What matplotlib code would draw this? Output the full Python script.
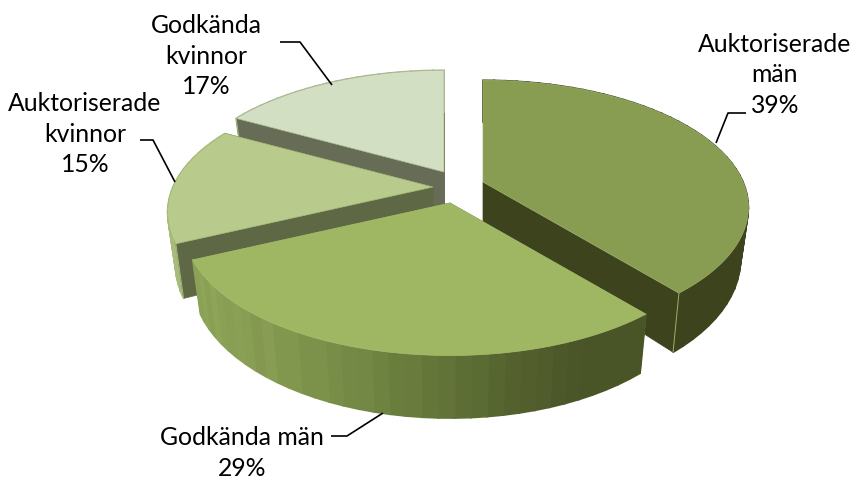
import numpy as np
import matplotlib
matplotlib.use('Agg')
import matplotlib.pyplot as plt
from matplotlib.colors import to_rgb

plt.rcParams['font.family'] = ['Lato', 'DejaVu Sans']

# values, clockwise from twelve o'clock
labels = ['Auktoriserade\nmän\n39%', 'Godkända män\n29%', 'Auktoriserade\nkvinnor\n15%', 'Godkända\nkvinnor\n17%']
values = [39, 29, 15, 17]

# styles per slice
top_colors = ['#889c52', '#9fb762', '#b8cb8d', '#d3dfc2']
cut_colors = ['#3d441d', '#4a5527', '#5f6845', '#666c55']
rim_stops = [['#3d441d', '#3d441d'],
             ['#4a5527', '#4a5527', '#566430', '#66793a', '#768c47', '#84994f', '#8aa055', '#8ba257'],
             ['#a8bb7c', '#a8bb7c'],
             ['#aab48f', '#aab48f']]
edge_colors = ['#9db06a', '#a9bf72', '#a3b87a', '#a9b98f']
apexes = [(483, 182), (450, 203), (433, 187), (444, 172)]
draw_order = [3, 2, 0, 1]
stripes = [0, .012, -.01, .008, -.005, .015, -.012, .005, .01, -.008]

# pie geometry in pixels
R = 260
RC = 122
K = 0.2
DEPTH = 50
SHRINK = 0.97


def project(apex, ang, rad=1.0):
    # ang in degrees clockwise from top, simple perspective on the pie plane
    u = rad * np.sin(np.radians(ang))
    v = -rad * np.cos(np.radians(ang))
    s = 1 / (1 - K * v)
    return apex[0] + R * u * s, apex[1] + RC * v * s, s


def lower(apex, x, y, s):
    return apex[0] + (x - apex[0]) * SHRINK, y + DEPTH * s


def mix(stops, f):
    cols = np.array([to_rgb(c) for c in stops])
    p = np.linspace(0, 1, len(cols))
    return [np.interp(f, p, cols[:, i]) for i in range(3)]


fig = plt.figure(figsize=(8.54, 4.8), dpi=100)
ax = fig.add_axes([0, 0, 1, 1])
ax.set_xlim(0, 854)
ax.set_ylim(480, 0)
ax.axis('off')

ends = np.cumsum(values) / np.sum(values) * 360
starts = np.concatenate([[0], ends[:-1]])


def draw_cut(i, ang, z):
    apex = apexes[i]
    xa, ya, sa = project(apex, 0, 0)
    xb, yb = lower(apex, xa, ya, sa)
    x, y, s = project(apex, ang)
    x2, y2 = lower(apex, x, y, s)
    ax.fill([xa, x, x2, xb], [ya, y, y2, yb], color=cut_colors[i], lw=0.5, zorder=z)
    ax.plot([x, x2], [y, y2], color=edge_colors[i], lw=0.7, zorder=z + 0.01)


for i in draw_order:
    apex = apexes[i]
    a0, a1 = starts[i], ends[i]
    base = 1 + draw_order.index(i)

    # cut faces: the a0 face looks at us when its normal points forward, a1 the other way
    a0_front = np.cos(np.radians(a0 - 90)) < 0.01
    a1_front = np.cos(np.radians(a1 + 90)) < -0.01
    if not a0_front:
        draw_cut(i, a0, base)
    if not a1_front:
        draw_cut(i, a1, base)

    # outer rim as narrow strips
    angs = np.linspace(a0, a1, int((a1 - a0) / 3) + 2)
    for j in range(len(angs) - 1):
        x0, y0, s0 = project(apex, angs[j])
        x1, y1, s1 = project(apex, angs[j + 1])
        x0b, y0b = lower(apex, x0, y0, s0)
        x1b, y1b = lower(apex, x1, y1, s1)
        col = mix(rim_stops[i], j / (len(angs) - 2))
        if i == 1:
            col = np.clip(np.array(col) + stripes[j % len(stripes)] * (j / (len(angs) - 2)), 0, 1)
        ax.fill([x0, x1, x1b, x0b], [y0, y1, y1b, y0b], color=col, lw=1.3, zorder=base + 0.1)

    if a0_front:
        draw_cut(i, a0, base + 0.2)
    if a1_front:
        draw_cut(i, a1, base + 0.2)

    # top face
    angs = np.linspace(a0, a1, 120)
    pts = [project(apex, a) for a in angs]
    px = [apex[0]] + [p[0] for p in pts]
    py = [apex[1]] + [p[1] for p in pts]
    ax.fill(px, py, facecolor=top_colors[i], edgecolor=edge_colors[i], lw=0.5, zorder=base + 0.5)

# labels and leader lines, pixel layout
text_pos = [(775, 75), (242, 453), (85, 134), (206, 56)]
leaders = [([746, 728, 716], [113, 113, 143]),
           ([331, 347, 383], [436, 436, 413]),
           ([140, 153, 175], [140, 140, 182]),
           ([280, 300, 332], [42, 42, 85])]

for lab, pos, (lx, ly) in zip(labels, text_pos, leaders):
    ax.text(pos[0], pos[1], lab, ha='center', va='center', fontsize=17.8, color='black', linespacing=1.42, zorder=10)
    ax.plot(lx, ly, color='black', lw=1.2, zorder=10, solid_capstyle='butt')

fig.savefig('out.png', dpi=100)
